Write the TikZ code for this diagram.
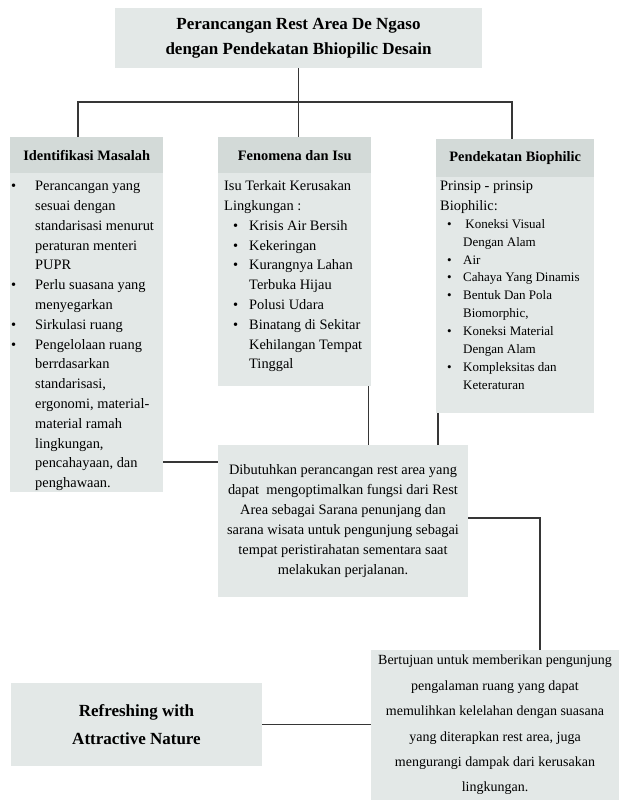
\documentclass[tikz,border=0pt]{standalone}
\usepackage{fontspec}
\setmainfont{Liberation Serif}

\definecolor{boxgray}{HTML}{E3E8E7}
\definecolor{headgray}{HTML}{D3DAD8}
\definecolor{linkgray}{HTML}{363636}

\newcommand{\itm}[1][24pt]{\makebox[#1][l]{\textbullet}}
\newcommand{\bodysize}{\fontsize{14.4}{19.8}\selectfont}

\begin{document}
\begin{tikzpicture}[x=1pt, y=-1pt,
    box/.style={fill=boxgray, inner sep=0pt, anchor=north west},
    head/.style={fill=headgray, inner sep=0pt, anchor=north west, font=\bfseries\fontsize{14.4}{17}\selectfont},
    txt/.style={inner sep=0pt, anchor=north west, align=left},
    note/.style={fill=boxgray, inner sep=0pt, align=center},
    conn/.style={draw=linkgray, line width=1.8pt}]

    \useasboundingbox (0,0) rectangle (619,800);

    % Title
    \node[note, minimum width=367pt, minimum height=60pt, font=\bfseries\fontsize{17}{25}\selectfont] (title) at (298.5,38)
        {Perancangan Rest Area De Ngaso\\dengan Pendekatan Bhiopilic Desain};

    % Identifikasi Masalah
    \node[box, minimum width=153pt, minimum height=355pt] (ident) at (10,137) {};
    \node[head, minimum width=153pt, minimum height=36pt] (identhead) at (10,137) {Identifikasi Masalah};
    \node[txt, font=\bodysize] (identlist) at (11,181)
        {\itm Perancangan yang\\\hspace*{24pt}sesuai dengan\\\hspace*{24pt}standarisasi menurut\\\hspace*{24pt}peraturan menteri\\\hspace*{24pt}PUPR\\
         \itm Perlu suasana yang\\\hspace*{24pt}menyegarkan\\
         \itm Sirkulasi ruang\\
         \itm Pengelolaan ruang\\\hspace*{24pt}berrdasarkan\\\hspace*{24pt}standarisasi,\\\hspace*{24pt}ergonomi, material-\\\hspace*{24pt}material ramah\\\hspace*{24pt}lingkungan,\\\hspace*{24pt}pencahayaan, dan\\\hspace*{24pt}penghawaan.};

    % Fenomena dan Isu
    \node[box, minimum width=153pt, minimum height=249pt] (feno) at (218,137) {};
    \node[head, minimum width=153pt, minimum height=36pt] (fenohead) at (218,137) {Fenomena dan Isu};
    \node[txt, font=\bodysize] (fenolist) at (224,180.5)
        {Isu Terkait Kerusakan\\Lingkungan :\\
         \hspace*{9pt}\itm[16pt]Krisis Air Bersih\\
         \hspace*{9pt}\itm[16pt]Kekeringan\\
         \hspace*{9pt}\itm[16pt]Kurangnya Lahan\\\hspace*{25pt}Terbuka Hijau\\
         \hspace*{9pt}\itm[16pt]Polusi Udara\\
         \hspace*{9pt}\itm[16pt]Binatang di Sekitar\\\hspace*{25pt}Kehilangan Tempat\\\hspace*{25pt}Tinggal};

    % Pendekatan Biophilic
    \node[box, minimum width=158pt, minimum height=274pt] (bio) at (436,139) {};
    \node[head, minimum width=158pt, minimum height=38pt] (biohead) at (436,139) {Pendekatan Biophilic};
    \node[txt, font=\bodysize] (biointro) at (440,180.5) {Prinsip - prinsip\\Biophilic:};
    \node[txt, font=\fontsize{13}{17.9}\selectfont] (biolist) at (447,219)
        {\itm[16pt]\,Koneksi Visual\\\hspace*{16pt}Dengan Alam\\
         \itm[16pt]Air\\
         \itm[16pt]Cahaya Yang Dinamis\\
         \itm[16pt]Bentuk Dan Pola\\\hspace*{16pt}Biomorphic,\\
         \itm[16pt]Koneksi Material\\\hspace*{16pt}Dengan Alam\\
         \itm[16pt]Kompleksitas dan\\\hspace*{16pt}Keteraturan};

    % Kebutuhan
    \node[note, minimum width=250pt, minimum height=152pt, font=\fontsize{14.4}{20}\selectfont] (needs) at (343,521)
        {Dibutuhkan perancangan rest area yang\\dapat~ mengoptimalkan fungsi dari Rest\\Area sebagai Sarana penunjang dan\\sarana wisata untuk pengunjung sebagai\\tempat peristirahatan sementara saat\\melakukan perjalanan.};

    % Tujuan
    \node[note, minimum width=248pt, minimum height=150pt, font=\fontsize{14}{25.4}\selectfont] (goal) at (495,725)
        {Bertujuan untuk memberikan pengunjung\\pengalaman ruang yang dapat\\memulihkan kelelahan dengan suasana\\yang diterapkan rest area, juga\\mengurangi dampak dari kerusakan\\lingkungan.};

    % Konsep
    \node[note, minimum width=251pt, minimum height=83pt, font=\bfseries\fontsize{17}{28}\selectfont] (refresh) at (136.5,724.5)
        {Refreshing with\\Attractive Nature};

    % Connectors
    \coordinate (bus) at (298.5,102);
    \draw[conn] (title.south) -- (title.south |- fenohead.north);
    \draw[conn] ([xshift=-9pt]identhead.north) |- (bus) -| ([xshift=-3pt]biohead.north);
    \draw[conn] ([yshift=-17pt]needs.north west) -- ([yshift=-17pt]needs.north west -| ident.east);
    \draw[conn] ([xshift=-3pt]feno.south east) -- ([xshift=-3pt]feno.south east |- needs.north);
    \draw[conn] ([xshift=2pt]bio.south west) -- ([xshift=2pt]bio.south west |- needs.north);
    \draw[conn] ([yshift=3pt]needs.east) -| ([xshift=45pt]goal.north);
    \draw[conn] (refresh.east) -- (refresh.east -| goal.west);
\end{tikzpicture}
\end{document}
